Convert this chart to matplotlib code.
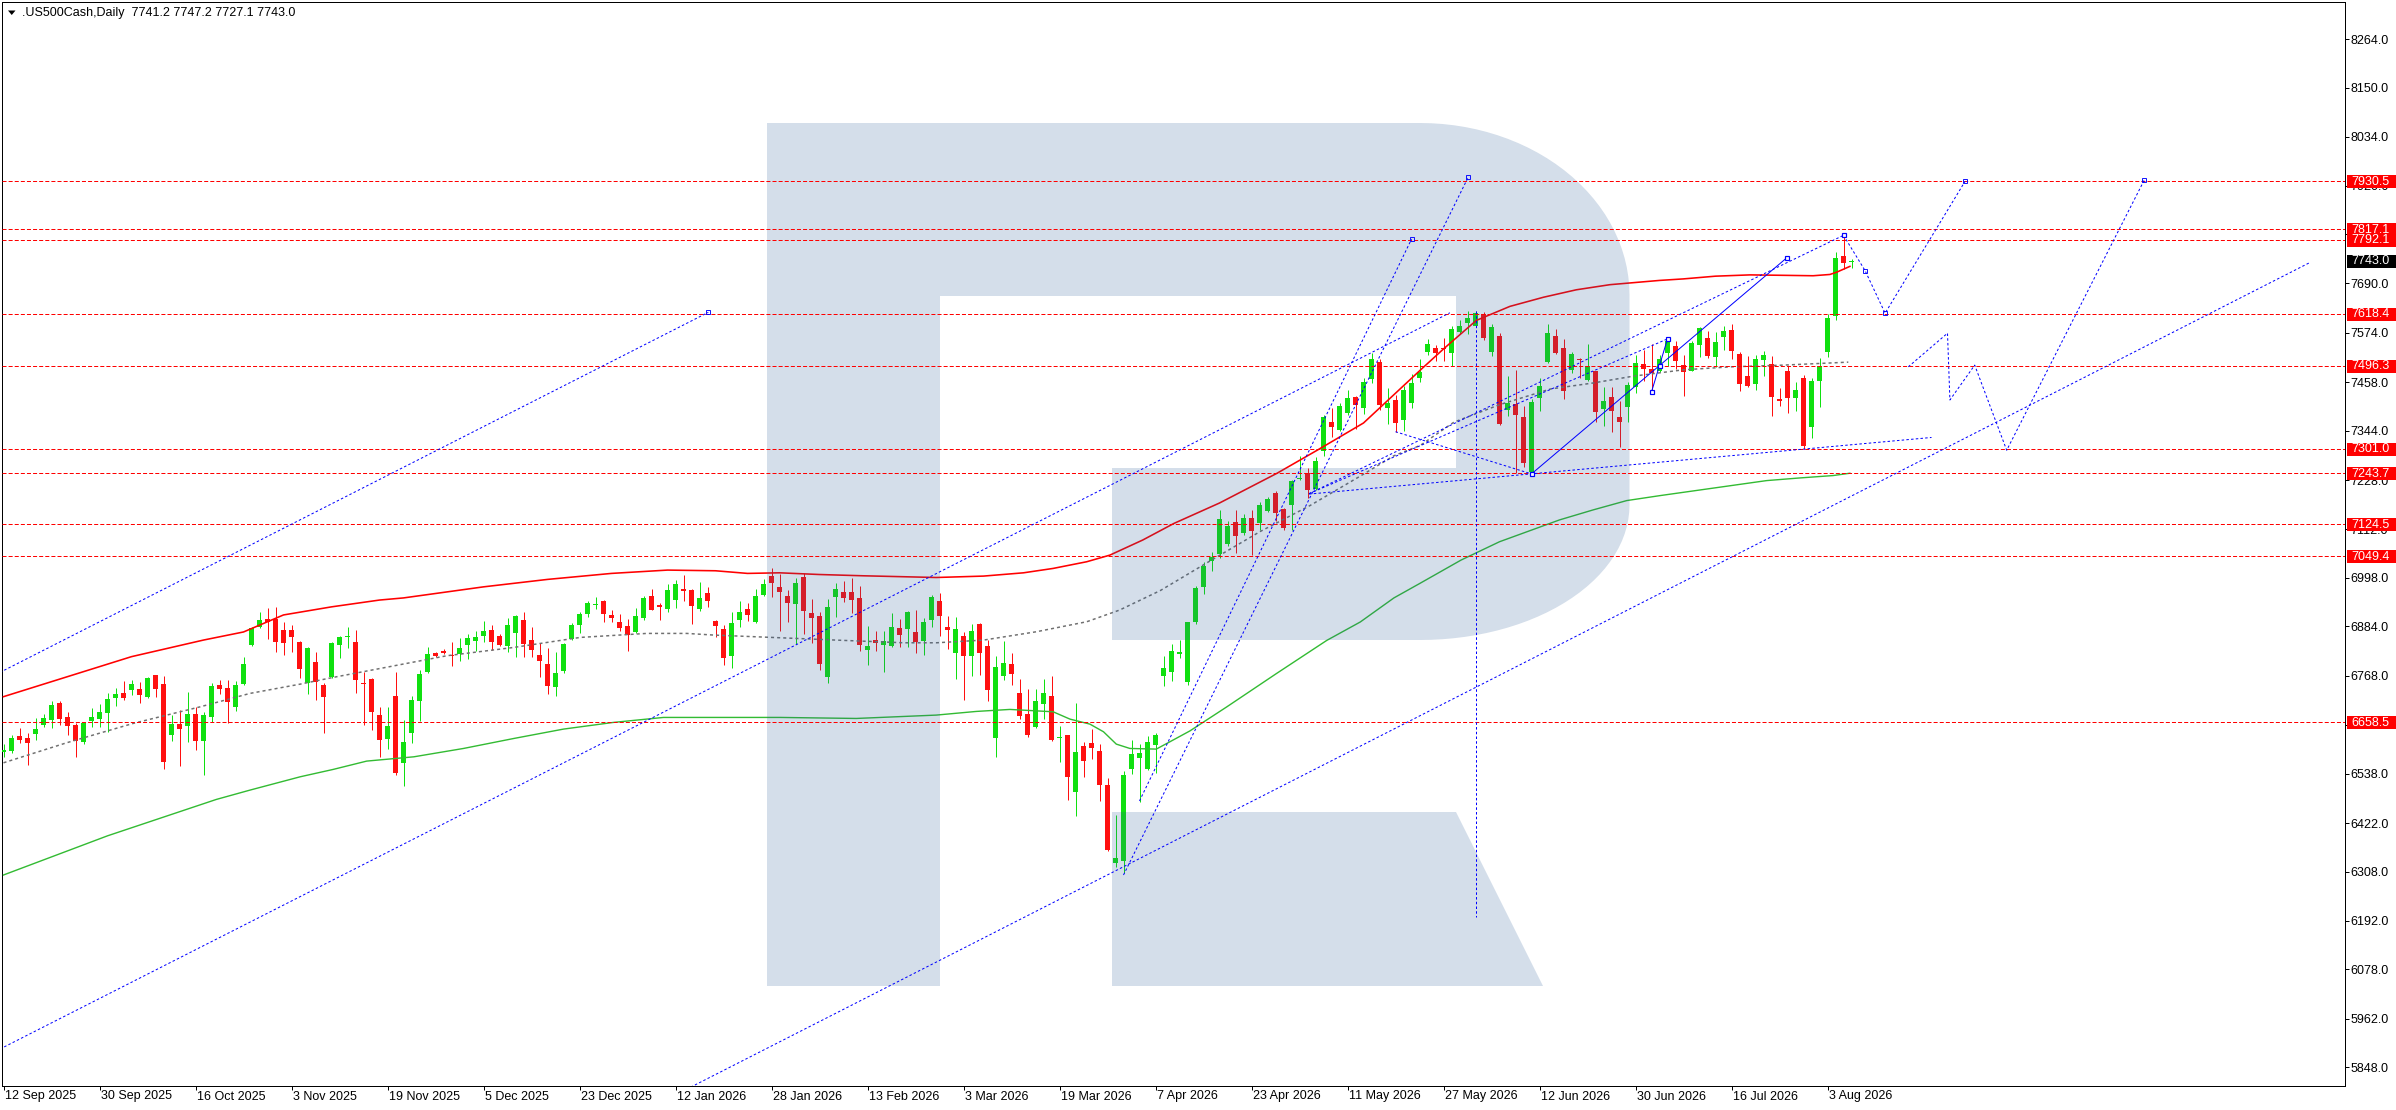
import matplotlib
matplotlib.use('Agg')
import matplotlib.pyplot as plt
import numpy as np
from matplotlib.patches import Rectangle, Polygon
import matplotlib.transforms as mtransforms

plt.rcParams['font.family'] = ['Liberation Sans', 'DejaVu Sans']
plt.rcParams['lines.scale_dashes'] = False

# ---------------- data ----------------
title_text = ".US500Cash,Daily  7741.2 7747.2 7727.1 7743.0"

opens = [6588.0, 6591.8, 6626.3, 6621.6, 6631.0, 6652.2, 6663.9, 6703.1, 6671.0, 6652.2,
         6613.0, 6661.6, 6667.1, 6680.4, 6716.4, 6727.4, 6734.4, 6736.8, 6717.2, 6768.9,
         6748.5, 6628.7, 6654.5, 6650.6, 6678.0, 6614.6, 6671.8, 6746.2, 6739.1, 6695.2,
         6748.5, 6840.2, 6883.2, 6901.3, 6900.5, 6875.4, 6875.4, 6848.0, 6751.6, 6800.2,
         6746.2, 6764.2, 6840.2, 6859.0, 6847.2, 6750.9, 6761.0, 6675.7, 6619.3, 6720.3,
         6562.1, 6634.1, 6709.3, 6776.7, 6821.4, 6826.8, 6816.7, 6818.2, 6840.9, 6850.3,
         6862.1, 6875.4, 6861.3, 6837.8, 6869.1, 6898.9, 6851.9, 6816.7, 6795.5, 6742.2,
         6779.8, 6854.3, 6886.4, 6913.8, 6933.4, 6942.8, 6909.9, 6894.2, 6884.8, 6870.7,
         6904.4, 6955.3, 6934.2, 6924.8, 6946.7, 6971.7, 6969.4, 6924.8, 6962.3, 6896.6,
         6877.8, 6814.3, 6898.9, 6924.8, 6894.2, 6957.6, 7003.1, 6976.5, 6955.3, 6936.5,
         6999.9, 6915.4, 6908.3, 6765.7, 6952.9, 6964.7, 6964.7, 6950.6, 6829.2, 6851.9,
         6840.9, 6838.6, 6880.1, 6877.0, 6870.7, 6849.6, 6898.9, 6943.6, 6881.7, 6822.1,
         6861.3, 6815.1, 6889.5, 6837.8, 6622.4, 6768.1, 6795.5, 6727.4, 6678.0, 6648.3,
         6702.3, 6720.3, 6621.6, 6628.7, 6495.5, 6602.8, 6609.9, 6591.1, 6511.2, 6327.1,
         6333.4, 6548.8, 6575.4, 6548.8, 6606.0, 6767.3, 6777.4, 6819.0, 6753.9, 6893.7,
         6977.0, 7036.9, 7053.3, 7076.8, 7128.9, 7102.8, 7138.4, 7126.3, 7154.9, 7196.6,
         7159.2, 7169.7, 7229.5, 7244.3, 7207.0, 7296.4, 7363.2, 7345.0, 7384.9, 7424.0,
         7397.9, 7465.6, 7506.4, 7396.2, 7417.0, 7370.1, 7409.2, 7467.2, 7528.3, 7538.5,
         7536.9, 7526.7, 7576.9, 7598.0, 7590.9, 7618.4, 7528.3, 7567.5, 7393.6, 7407.7,
         7377.1, 7246.3, 7420.2, 7504.8, 7567.5, 7539.3, 7486.8, 7512.6, 7463.3, 7483.6,
         7395.9, 7424.1, 7377.1, 7400.6, 7447.6, 7500.9, 7489.1, 7485.2, 7526.0, 7543.2,
         7499.3, 7485.2, 7546.3, 7562.8, 7516.5, 7565.1, 7581.6, 7524.4, 7473.5, 7453.1,
         7511.1, 7500.9, 7419.4, 7485.2, 7420.2, 7468.8, 7352.1, 7461.7, 7528.3, 7612.9,
         7755.5, 7741.2]

highs = [6607.5, 6628.7, 6644.3, 6632.6, 6667.8, 6678.0, 6708.6, 6708.6, 6681.9, 6656.1,
         6658.4, 6691.3, 6700.7, 6726.6, 6738.3, 6755.6, 6757.9, 6754.0, 6764.2, 6769.7,
         6767.3, 6675.7, 6687.4, 6728.9, 6695.2, 6683.5, 6750.1, 6757.9, 6757.9, 6756.3,
         6812.0, 6883.2, 6918.5, 6926.3, 6930.2, 6894.2, 6887.2, 6850.3, 6836.2, 6824.5,
         6750.1, 6848.0, 6861.3, 6883.2, 6875.4, 6777.5, 6761.8, 6695.2, 6695.2, 6775.9,
         6663.9, 6720.3, 6781.4, 6834.7, 6822.9, 6830.8, 6847.2, 6856.6, 6866.0, 6873.8,
         6896.6, 6887.2, 6866.0, 6902.8, 6910.7, 6917.7, 6882.5, 6844.1, 6833.1, 6823.7,
         6845.6, 6891.1, 6918.5, 6942.8, 6952.2, 6945.9, 6922.4, 6912.2, 6900.5, 6926.3,
         6955.3, 6971.7, 6938.9, 6983.5, 6992.9, 7004.7, 6971.0, 6988.2, 6975.7, 6898.9,
         6887.2, 6918.5, 6942.8, 6939.6, 6971.7, 6996.0, 7020.3, 7007.0, 6969.4, 6996.8,
         7008.6, 6947.5, 6918.5, 6947.5, 6986.6, 6991.3, 6996.8, 6978.8, 6884.8, 6873.8,
         6873.8, 6914.6, 6901.3, 6920.8, 6922.4, 6902.8, 6957.7, 6963.1, 6908.3, 6905.2,
         6870.7, 6889.5, 6891.0, 6851.9, 6814.3, 6849.6, 6820.6, 6760.3, 6736.8, 6736.8,
         6759.5, 6767.3, 6649.8, 6630.0, 6703.1, 6613.0, 6642.0, 6607.5, 6527.6, 6440.7,
         6544.1, 6616.9, 6607.5, 6626.3, 6633.4, 6814.3, 6842.5, 6851.1, 6894.5, 6979.6,
         7035.1, 7059.4, 7156.6, 7132.3, 7156.6, 7148.0, 7156.6, 7175.7, 7187.9, 7202.6,
         7161.8, 7228.7, 7285.1, 7256.4, 7281.6, 7380.5, 7396.2, 7410.1, 7439.6, 7426.0,
         7467.3, 7526.4, 7513.3, 7443.9, 7428.3, 7448.2, 7476.0, 7512.6, 7559.6, 7545.5,
         7562.0, 7590.9, 7604.3, 7626.2, 7624.6, 7622.3, 7594.9, 7572.9, 7473.5, 7487.6,
         7402.9, 7418.6, 7468.0, 7594.9, 7583.1, 7560.4, 7529.1, 7515.0, 7547.9, 7485.0,
         7447.6, 7447.6, 7413.1, 7457.8, 7522.8, 7534.6, 7547.9, 7522.8, 7563.6, 7554.1,
         7522.8, 7554.1, 7588.6, 7579.2, 7576.9, 7591.0, 7594.9, 7528.3, 7520.5, 7522.8,
         7532.2, 7520.5, 7444.5, 7495.4, 7459.4, 7475.8, 7468.0, 7515.0, 7618.4, 7764.9,
         7804.0, 7747.2]

lows = [6577.8, 6587.1, 6609.1, 6559.0, 6616.9, 6648.3, 6645.9, 6652.2, 6628.7, 6577.8,
        6607.5, 6648.3, 6648.3, 6636.5, 6696.8, 6710.9, 6722.7, 6704.6, 6715.6, 6718.7,
        6548.8, 6614.6, 6556.6, 6612.2, 6593.4, 6534.7, 6659.2, 6725.0, 6657.6, 6685.1,
        6746.2, 6837.8, 6879.3, 6853.5, 6824.5, 6816.7, 6823.7, 6761.8, 6725.0, 6710.9,
        6634.1, 6761.8, 6808.8, 6832.3, 6728.2, 6652.2, 6640.4, 6577.8, 6595.0, 6534.7,
        6508.8, 6610.7, 6662.4, 6773.6, 6812.7, 6819.0, 6790.8, 6803.3, 6808.0, 6826.1,
        6848.0, 6828.4, 6837.8, 6824.5, 6811.2, 6812.7, 6812.7, 6765.7, 6725.0, 6721.1,
        6773.6, 6851.9, 6869.1, 6906.7, 6924.8, 6894.2, 6895.0, 6873.8, 6826.8, 6869.1,
        6898.9, 6922.4, 6898.9, 6918.5, 6926.3, 6944.3, 6889.5, 6920.8, 6930.2, 6858.2,
        6793.2, 6786.9, 6883.2, 6896.6, 6891.1, 6956.0, 6953.7, 6873.8, 6895.0, 6842.5,
        6866.0, 6844.1, 6781.4, 6751.6, 6905.2, 6941.2, 6916.1, 6826.8, 6793.2, 6826.8,
        6777.5, 6836.2, 6834.7, 6834.7, 6822.1, 6816.7, 6883.2, 6861.3, 6831.5, 6761.0,
        6711.7, 6768.1, 6769.7, 6709.3, 6577.8, 6757.9, 6747.0, 6667.1, 6624.8, 6646.0,
        6666.3, 6615.4, 6566.0, 6475.9, 6439.1, 6530.0, 6572.3, 6474.4, 6356.9, 6317.7,
        6305.0, 6536.2, 6472.0, 6547.0, 6538.6, 6744.6, 6755.7, 6809.5, 6747.0, 6889.3,
        6959.6, 7013.4, 7045.5, 7072.5, 7056.8, 7099.3, 7052.5, 7111.5, 7153.2, 7131.5,
        7111.5, 7109.8, 7228.7, 7185.3, 7205.2, 7283.4, 7328.5, 7343.2, 7380.5, 7347.6,
        7383.2, 7456.9, 7393.6, 7358.9, 7341.5, 7342.4, 7397.9, 7457.8, 7522.8, 7507.1,
        7507.1, 7497.0, 7571.4, 7571.4, 7589.4, 7557.3, 7520.5, 7357.5, 7379.5, 7244.0,
        7258.1, 7242.4, 7391.2, 7502.4, 7524.0, 7418.6, 7479.0, 7468.0, 7461.0, 7363.8,
        7354.4, 7340.3, 7306.6, 7363.8, 7433.5, 7461.7, 7434.3, 7481.3, 7497.0, 7489.1,
        7426.5, 7483.7, 7516.5, 7515.0, 7493.1, 7534.6, 7511.9, 7438.2, 7446.1, 7440.6,
        7471.9, 7379.5, 7401.4, 7386.5, 7389.6, 7301.1, 7326.2, 7400.6, 7518.1, 7605.1,
        7724.1, 7727.1]

closes = [6592.6, 6620.8, 6616.9, 6610.7, 6642.0, 6668.6, 6699.2, 6667.1, 6650.6, 6615.3,
          6656.9, 6671.0, 6682.7, 6713.3, 6725.0, 6716.4, 6748.5, 6722.7, 6762.6, 6737.5,
          6566.0, 6654.5, 6642.8, 6678.0, 6614.6, 6675.7, 6743.8, 6736.8, 6707.0, 6746.2,
          6795.5, 6879.3, 6898.9, 6894.2, 6848.0, 6845.6, 6859.7, 6784.5, 6833.9, 6754.0,
          6718.7, 6845.6, 6858.2, 6860.5, 6757.9, 6747.7, 6683.5, 6616.9, 6650.6, 6540.2,
          6612.2, 6710.9, 6772.0, 6819.0, 6814.3, 6821.4, 6815.1, 6833.1, 6856.6, 6859.0,
          6873.1, 6848.0, 6840.2, 6887.2, 6908.3, 6843.3, 6829.2, 6803.3, 6743.8, 6773.6,
          6842.5, 6887.2, 6913.0, 6938.1, 6936.5, 6913.8, 6904.4, 6880.9, 6864.4, 6908.3,
          6950.6, 6923.2, 6930.2, 6969.4, 6983.5, 6967.8, 6931.8, 6950.6, 6943.6, 6885.6,
          6810.4, 6891.9, 6917.7, 6910.7, 6955.3, 6983.5, 6986.6, 6965.5, 6939.6, 6986.6,
          6920.8, 6904.4, 6795.5, 6929.5, 6971.8, 6951.4, 6945.9, 6840.9, 6837.8, 6844.1,
          6849.6, 6881.7, 6863.7, 6918.5, 6848.0, 6894.2, 6952.9, 6909.1, 6876.2, 6877.8,
          6815.1, 6873.1, 6822.1, 6734.4, 6788.5, 6797.9, 6772.8, 6674.1, 6629.5, 6708.6,
          6727.4, 6617.7, 6624.0, 6530.8, 6588.0, 6568.4, 6598.9, 6512.0, 6358.4, 6338.8,
          6534.7, 6584.0, 6587.2, 6613.0, 6628.7, 6786.9, 6826.0, 6823.4, 6893.7, 6973.5,
          7026.4, 7046.4, 7135.8, 7119.3, 7096.7, 7138.4, 7108.9, 7169.7, 7182.7, 7150.6,
          7115.8, 7225.2, 7233.0, 7205.2, 7272.1, 7377.1, 7352.8, 7403.1, 7419.6, 7404.0,
          7459.5, 7513.3, 7404.0, 7410.1, 7361.5, 7438.7, 7456.9, 7482.9, 7547.9, 7526.7,
          7535.4, 7583.1, 7590.9, 7609.7, 7619.9, 7562.0, 7588.6, 7359.9, 7409.2, 7380.3,
          7267.5, 7412.4, 7449.2, 7573.7, 7525.9, 7438.2, 7525.2, 7511.1, 7497.0, 7387.3,
          7414.7, 7389.6, 7363.8, 7452.3, 7502.4, 7488.4, 7478.9, 7512.6, 7555.7, 7508.7,
          7481.3, 7550.2, 7584.7, 7520.5, 7553.4, 7579.2, 7530.6, 7453.1, 7448.4, 7513.4,
          7522.8, 7422.5, 7413.2, 7420.2, 7440.6, 7308.9, 7461.7, 7496.2, 7609.8, 7750.8,
          7737.4, 7743.0]

# indicator lines (bar index, price)
red_ma_x = [0, 8, 16, 25, 30, 35, 41, 47, 50, 60, 68, 76, 83, 89, 93, 97, 102, 107.5, 116.6,
            122.5, 127.5, 131.2, 135.4, 138.3, 142.4, 146.3, 152, 159.2, 164.3, 170, 177.2,
            180, 184.1, 188.3, 192.5, 196.6, 200.8, 207, 210, 214, 218.3, 222.5, 226.2,
            228.3, 229.1, 230.8]
red_ma_y = [6719, 6766, 6813, 6852, 6871, 6911, 6930, 6946, 6951, 6977, 6994.5, 7008.6, 7016.4,
            7014.8, 7008.6, 7010, 7006, 7003, 6999, 7002.3, 7010, 7020.3, 7036, 7051.6, 7087,
            7126, 7174, 7244, 7299, 7362, 7488, 7536, 7603, 7636, 7657.5, 7675, 7687, 7697,
            7700.6, 7707, 7710, 7709, 7708, 7711, 7716, 7730]

green_ma_x = [0, 13, 26.6, 30.8, 37.1, 41.2, 45.4, 51.3, 57.5, 63.8, 70, 76.2, 82.5, 88.8, 97.1,
              106.6, 116.6, 121.6, 125.8, 131.2, 133.3, 135.8, 137.5, 139.1, 140.8, 144.1, 145.8,
              148.3, 152.9, 159.1, 165.4, 169.6, 173.8, 177.1, 182.2, 187, 194.5, 198.7, 202.9,
              207.1, 220.4, 224.6, 228.7, 230.8]
green_ma_y = [6300, 6392, 6477.5, 6499.4, 6530.8, 6548, 6567.6, 6577.7, 6597.3, 6620.8, 6642.8,
              6658.4, 6670.2, 6670.2, 6670.2, 6667.8, 6675.7, 6684.3, 6689, 6683.5, 6666.3,
              6654.5, 6636.5, 6607.5, 6597.3, 6595.8, 6613, 6638.5, 6694.9, 6773.1, 6851.1,
              6894.5, 6951, 6985.7, 7040, 7083, 7134.3, 7157.8, 7179.7, 7191.5, 7226.7, 7233,
              7238.5, 7244]

gray_ma_x = [0, 7.9, 16.2, 24.6, 30.8, 37.1, 41.2, 47.1, 55.4, 63.8, 72.1, 80.4, 85.4, 88.8, 97.1,
             104.1, 112.5, 116.6, 122.5, 129.1, 135.4, 139.5, 144.6, 150.8, 157.1, 163.3, 169.6,
             173.8, 177.1, 181.3, 187, 193.4, 198.7, 203.7, 210, 216, 222.5, 230.6]
gray_ma_y = [6563.6, 6610.7, 6656.1, 6695.2, 6726.6, 6748.5, 6764.2, 6785.3, 6815.1, 6834.7,
             6858.2, 6867.6, 6867.6, 6863.7, 6857.4, 6851.9, 6845.6, 6845.6, 6851.9, 6871.5,
             6895, 6922.4, 6968.3, 7037.7, 7107.2, 7167.9, 7237.3, 7285, 7309.4, 7364, 7405,
             7442, 7456, 7472, 7487, 7494, 7498, 7505]

# horizontal levels (red dashed with red price boxes)
levels = [7930.5, 7817.1, 7792.1, 7618.4, 7496.3, 7301.0, 7243.7, 7124.5, 7049.4, 6658.5]
current_price = 7743.0

# blue dotted drawing objects: lists of (bar, price) vertices
dotted_objects = [
    [(-0.44, 6776), (88.1, 7622)],
    [(-0.44, 5891), (180.8, 7621)],
    [(85.9, 5801.5), (288.4, 7740)],
    [(142, 6474), (176, 7794)],
    [(140, 6300), (183.1, 7940)],
    [(184, 7625), (184, 6201)],
    [(174, 7341.5), (191, 7242.4)],
    [(163.2, 7195), (241, 7328)],
    [(163.2, 7196), (208, 7559.6)],
    [(163.2, 7196), (230, 7803)],
    [(230, 7803), (232.7, 7720), (235.2, 7620), (245.2, 7930)],
    [(238.1, 7494), (243, 7573), (243.3, 7416), (246.4, 7498), (250.4, 7298), (267.6, 7933)],
]
solid_objects = [
    [(191, 7242.4), (222.9, 7750)],
    [(206, 7435), (208, 7559.6)],
]
wave_points = [(191, 7242.4), (206, 7435), (207, 7496), (208, 7559.6), (222.9, 7750), (230, 7803)]
small_marks = [(88.1, 7622), (176, 7794), (183.1, 7940), (232.7, 7720), (235.2, 7620),
               (245.2, 7930), (267.6, 7933)]

y_ticks = [5848, 5962, 6078, 6192, 6308, 6422, 6538, 6652, 6768, 6884, 6998, 7112, 7228,
           7344, 7458, 7574, 7690, 7806, 7920, 8034, 8150, 8264]
hidden_tick_labels = [6652, 7806]   # completely covered by price boxes in the reference
x_tick_bars = list(range(0, 229, 12))
x_tick_labels = ["12 Sep 2025", "30 Sep 2025", "16 Oct 2025", "3 Nov 2025", "19 Nov 2025",
                 "5 Dec 2025", "23 Dec 2025", "12 Jan 2026", "28 Jan 2026", "13 Feb 2026",
                 "3 Mar 2026", "19 Mar 2026", "7 Apr 2026", "23 Apr 2026", "11 May 2026",
                 "27 May 2026", "12 Jun 2026", "30 Jun 2026", "16 Jul 2026", "3 Aug 2026"]

# ---------------- figure ----------------
W, H = 2396, 1110
PX = 0.72  # one pixel in points at dpi 100
fig = plt.figure(figsize=(W / 100, H / 100), dpi=100)
fig.patch.set_facecolor('white')
ax = fig.add_axes([2 / W, 1 - 1086 / H, 2343 / W, 1084 / H])
ax.set_xlim(-0.1875, 292.6875)
ax.set_ylim(5804.2, 8351.2)
ax.set_facecolor('white')

BULL = '#10e010'
BEAR = '#ff1010'

o = np.array(opens); hi = np.array(highs); lo = np.array(lows); c = np.array(closes)
x = np.arange(len(o))
up = c >= o
cols = np.where(up, BULL, BEAR)
ax.vlines(x, lo, hi, colors=cols, linewidths=1.0 * PX, zorder=3)
minh = 2.4
diff = np.abs(c - o)
bh = np.maximum(diff, minh)
bottom = np.where(diff < minh, (o + c) / 2 - minh / 2, np.minimum(o, c))
ax.bar(x, bh, bottom=bottom, width=0.62, color=cols, linewidth=0, zorder=4)

# indicator lines
ax.plot(gray_ma_x, gray_ma_y, color='#707070', lw=1.5 * PX, dashes=(2.2, 2.2), zorder=4.5)
ax.plot(red_ma_x, red_ma_y, color='#ff0000', lw=1.6 * PX, zorder=4.6)
ax.plot(green_ma_x, green_ma_y, color='#33bb33', lw=1.4 * PX, zorder=4.6)

# watermark logo overlay (figure pixel coordinates, top-origin)
def fp(px, py):
    return (px / W, 1 - py / H)

bowl = [(767, 123), (1420, 123)]
for t in np.linspace(-np.pi / 2, 0, 30):
    bowl.append((1420 + 209.5 * np.cos(t), 295 + 172 * np.sin(t)))
for t in np.linspace(0, np.pi / 2, 30):
    bowl.append((1420 + 209.5 * np.cos(t), 505 + 135 * np.sin(t)))
bowl += [(1112, 640), (1112, 468), (1456, 468), (1456, 296), (940, 296), (940, 986), (767, 986)]
leg = [(1112, 812), (1456, 812), (1543, 986), (1112, 986)]
wm_col = (40 / 255, 90 / 255, 150 / 255)
for shape in (bowl, leg):
    poly = Polygon([fp(a, b) for a, b in shape], closed=True, transform=fig.transFigure,
                   facecolor=wm_col, edgecolor='none', alpha=0.2, zorder=5)
    ax.add_patch(poly)

# horizontal levels
for lv in levels:
    ax.axhline(lv, color='#ff0000', lw=1.0 * PX, dashes=(2.9, 1.5), zorder=6)

# blue objects
for obj in dotted_objects:
    xs, ys = zip(*obj)
    ax.plot(xs, ys, color='#0000ff', lw=1.0 * PX, dashes=(1.8, 1.6), zorder=7)
for obj in solid_objects:
    xs, ys = zip(*obj)
    ax.plot(xs, ys, color='#0000ff', lw=1.0 * PX, zorder=7)
wx, wy = zip(*wave_points)
ax.plot(wx, wy, 's', ms=5 * PX, mfc='white', mec='#0000ff', mew=1.2 * PX, zorder=8, ls='none')
mx, my = zip(*small_marks)
ax.plot(mx, my, 's', ms=3.5 * PX, mfc='none', mec='#0000ff', mew=0.9 * PX, zorder=8, ls='none')

# spines
for s in ax.spines.values():
    s.set_color('black')
    s.set_linewidth(1.0 * PX)

# y axis on right
ax.yaxis.tick_right()
ax.set_yticks(y_ticks)
ax.set_yticklabels(["" if v in hidden_tick_labels else f"{v:.1f}" for v in y_ticks])
ax.tick_params(axis='y', direction='out', length=4 * PX, width=1 * PX, pad=1.2 * PX,
               labelsize=9, colors='black', left=False, labelleft=False)

# x axis ticks + manual labels
ax.set_xticks(x_tick_bars)
ax.set_xticklabels([])
ax.tick_params(axis='x', direction='out', length=3.5 * PX, width=1 * PX)
blend_x = mtransforms.blended_transform_factory(ax.transData, ax.transAxes)
offx = mtransforms.ScaledTranslation(1.5 / 100, -4.5 / 100, fig.dpi_scale_trans)
for b, lab in zip(x_tick_bars, x_tick_labels):
    ax.text(b, 0, lab, transform=blend_x + offx, ha='left', va='top', fontsize=9,
            color='black', clip_on=False)

# price boxes on right axis
blend_y = mtransforms.blended_transform_factory(ax.transAxes, ax.transData)
box_x0 = 1 + 2 / 2343
box_w = 49 / 2343
box_h = 13 * 2.35
text_x = 1 + 6 / 2343
for lv in levels:
    ax.add_patch(Rectangle((box_x0, lv - box_h / 2 - 1.2), box_w, box_h, transform=blend_y,
                           facecolor='#ff0000', edgecolor='none', clip_on=False, zorder=20))
    ax.text(text_x, lv - 1.2, f"{lv:.1f}", transform=blend_y, ha='left', va='center',
            fontsize=9, color='white', clip_on=False, zorder=21)
ax.add_patch(Rectangle((box_x0, current_price - box_h / 2 - 1.2), box_w, box_h, transform=blend_y,
                       facecolor='black', edgecolor='none', clip_on=False, zorder=20))
ax.text(text_x, current_price - 1.2, f"{current_price:.1f}", transform=blend_y, ha='left',
        va='center', fontsize=9, color='white', clip_on=False, zorder=21)

# header
fig.text(21.7 / W, 1 - 13.3 / H, title_text, ha='left', va='center', fontsize=9, color='black')
tri = Polygon([fp(8, 10.5), fp(15.5, 10.5), fp(11.75, 15)], closed=True,
              transform=fig.transFigure, facecolor='black', edgecolor='none')
fig.patches.append(tri)

fig.savefig('out.png', dpi=100, facecolor='white')
